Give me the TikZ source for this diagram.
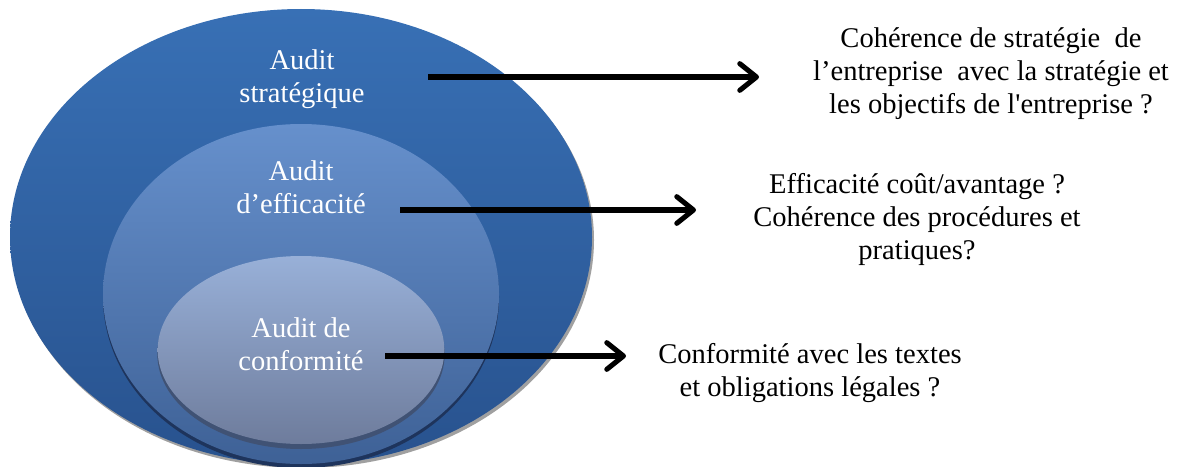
\documentclass[tikz,border=0pt]{standalone}
\usepackage{fontspec}
\setmainfont{Liberation Serif}
\usetikzlibrary{shapes.geometric,arrows.meta}
\definecolor{outTop}{RGB}{56,112,181}
\definecolor{outBot}{RGB}{40,82,142}
\definecolor{midTop}{RGB}{102,144,204}
\definecolor{midBot}{RGB}{62,97,150}
\definecolor{inTop}{RGB}{152,176,216}
\definecolor{inBot}{RGB}{110,124,156}
\definecolor{shGray}{RGB}{160,160,160}
\definecolor{shDark}{RGB}{30,52,92}
\tikzset{
  x=0.75pt, y=-0.75pt,
  oval/.style={ellipse, inner sep=0pt, draw=none},
  lbl/.style={text=white, align=center, font=\fontsize{21.4}{24.75}\selectfont, inner sep=0pt},
  qtxt/.style={text=black, align=center, font=\fontsize{21.4}{24.75}\selectfont, inner sep=0pt},
  arr/.style={line width=3.8pt, -{Straight Barb[length=12.5pt,width=20pt,round]}}
}
\begin{document}
\begin{tikzpicture}
\useasboundingbox (0,0) rectangle (1184,467);
% shadows
\node[oval, fill=shGray, minimum width=436.5pt, minimum height=342pt] (outersh) at (303,240) {};
\node[oval, top color=outTop, bottom color=outBot, minimum width=436.5pt, minimum height=342pt] (outer) at (301,237) {};
\node[oval, fill=shDark, minimum width=297pt, minimum height=256.5pt] (midsh) at (301,297) {};
\node[oval, top color=midTop, bottom color=midBot, minimum width=297pt, minimum height=255pt] (mid) at (301,294) {};
\node[oval, fill=shDark!85!white, minimum width=215.5pt, minimum height=142.5pt] (innsh) at (301,354) {};
\node[oval, top color=inTop, bottom color=inBot, minimum width=215pt, minimum height=141pt] (inn) at (301,350) {};
% labels
\node[lbl] (l1) at (302,79) {Audit\\stratégique};
\node[lbl] (l2) at (301,187) {Audit\\d’efficacité};
\node[lbl] (l3) at (301,344) {Audit de\\conformité};
% questions
\node[qtxt] (q1) at (991,74) {Cohérence de stratégie\ \ de\\l’entreprise\ \ avec la stratégie et\\les objectifs de l\textquotesingle entreprise ?};
\node[qtxt] (q2) at (917,219) {Efficacité coût/avantage ?\\Cohérence des procédures et\\pratiques?};
\node[qtxt] (q3) at (810,373) {Conformité avec les textes\\et obligations légales ?};
% arrow ends
\coordinate (s1) at (428,77);
\coordinate (e1) at (759,77);
\coordinate (s2) at (400,210);
\coordinate (e2) at (696,210);
\coordinate (s3) at (385,356);
\coordinate (e3) at (626,356);
\draw[arr] (s1) -- (e1);
\draw[arr] (s2) -- (e2);
\draw[arr] (s3) -- (e3);
\end{tikzpicture}
\end{document}
